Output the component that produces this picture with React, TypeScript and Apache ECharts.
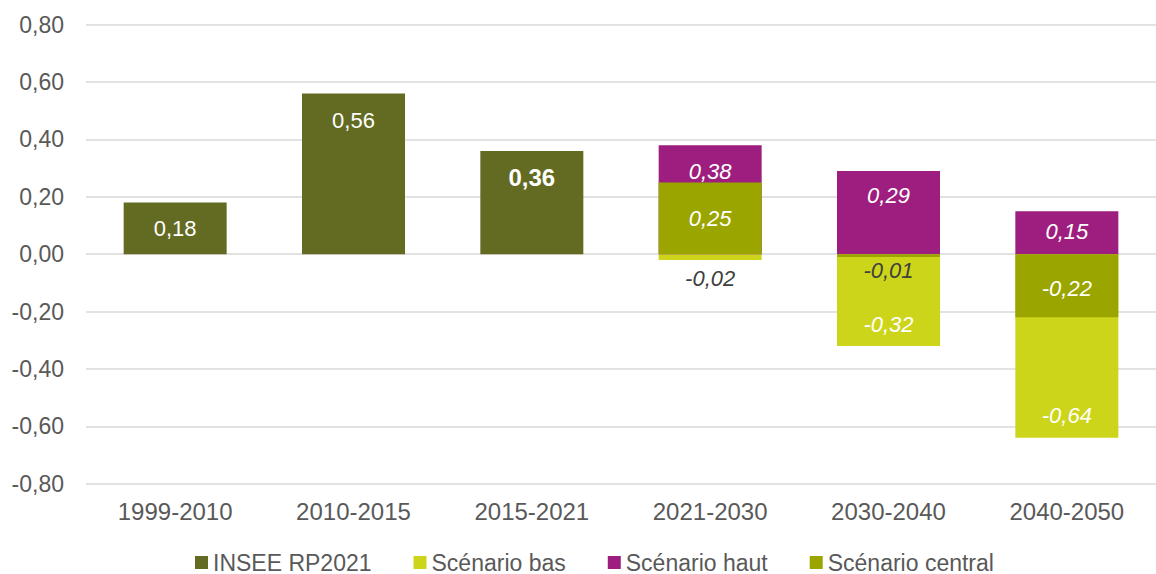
import React, { useEffect, useRef } from "react";
import * as echarts from "echarts";

const categories = ["1999-2010", "2010-2015", "2015-2021", "2021-2030", "2030-2040", "2040-2050"];
const inseeValues = [0.18, 0.56, 0.36, null, null, null];
const basValues = [null, null, null, -0.02, -0.32, -0.64];
const hautValues = [null, null, null, 0.38, 0.29, 0.15];
const centralValues = [null, null, null, 0.25, -0.01, -0.22];
const yTicks = { min: -0.8, max: 0.8, interval: 0.2 };

const fmt = (v: number) => v.toFixed(2).replace(".", ",");

const FONT = "'Liberation Sans', Arial, sans-serif";

const inseeLabels: any[] = [
  { position: "inside" },
  { position: "insideTop", distance: 16 },
  { position: "insideTop", distance: 15, fontWeight: "bold", fontSize: 24 },
  {}, {}, {},
];
const basLabels: any[] = [
  {}, {}, {},
  { position: "bottom", distance: 8, color: "#404040" },
  { position: "insideBottom", distance: 11 },
  { position: "insideBottom", distance: 11 },
];
const hautLabels: any[] = [
  {}, {}, {},
  { position: "insideTop", distance: 15 },
  { position: "insideTop", distance: 13 },
  { position: "insideTop", distance: 9 },
];
const centralLabels: any[] = [
  {}, {}, {},
  { position: "inside" },
  { position: "bottom", distance: 2, color: "#404040" },
  { position: "inside", offset: [0, 3] },
];

function build(values: (number | null)[], labels: any[]) {
  return values.map((v, i) =>
    v === null ? null : { value: v, label: { show: true, ...labels[i] } }
  );
}

export default function App() {
  const ref = useRef<HTMLDivElement>(null);
  useEffect(() => {
    if (!ref.current) return;
    const chart = echarts.init(ref.current, undefined, { renderer: "svg" });
    const baseLabel = {
      show: true,
      color: "#ffffff",
      fontSize: 22,
      fontFamily: FONT,
      formatter: (p: any) => fmt(p.value),
    };
    const common = {
      type: "bar" as const,
      barWidth: 103,
      barGap: "-100%",
    };
    chart.setOption({
      animation: false,
      textStyle: { fontFamily: FONT },
      grid: { left: 86, top: 24.7, width: 1080, bottom: 90.3, containLabel: false },
      legend: {
        top: 551,
        left: 195,
        padding: 0,
        itemWidth: 13,
        itemHeight: 13,
        itemGap: 42,
        icon: "rect",
        textStyle: { fontSize: 23, lineHeight: 23, color: "#595959", fontFamily: FONT },
        data: ["INSEE RP2021", "Scénario bas", "Scénario haut", "Scénario central"],
      },
      xAxis: {
        type: "category",
        data: categories,
        axisLine: { show: false },
        axisTick: { show: false },
        axisLabel: { fontSize: 24, color: "#595959", margin: 16, fontFamily: FONT },
      },
      yAxis: {
        type: "value",
        min: yTicks.min,
        max: yTicks.max,
        interval: yTicks.interval,
        axisLabel: { fontSize: 23, color: "#595959", margin: 22, formatter: fmt, fontFamily: FONT },
        splitLine: { lineStyle: { color: "#D9D9D9", width: 1.5 } },
        axisLine: { show: false },
        axisTick: { show: false },
      },
      series: [
        {
          ...common,
          name: "INSEE RP2021",
          itemStyle: { color: "#636B23" },
          label: { ...baseLabel },
          data: build(inseeValues, inseeLabels),
        },
        {
          ...common,
          name: "Scénario bas",
          itemStyle: { color: "#CDD51B" },
          label: { ...baseLabel, fontStyle: "italic" },
          data: build(basValues, basLabels),
        },
        {
          ...common,
          name: "Scénario haut",
          itemStyle: { color: "#9D1E7E" },
          label: { ...baseLabel, fontStyle: "italic" },
          data: build(hautValues, hautLabels),
        },
        {
          ...common,
          name: "Scénario central",
          itemStyle: { color: "#9AA500" },
          label: { ...baseLabel, fontStyle: "italic" },
          data: build(centralValues, centralLabels),
        },
      ],
    });
    return () => chart.dispose();
  }, []);
  return (
    <div
      ref={ref}
      style={{ position: "absolute", left: 0, top: 0, width: 1156, height: 574, overflow: "hidden" }}
    />
  );
}
